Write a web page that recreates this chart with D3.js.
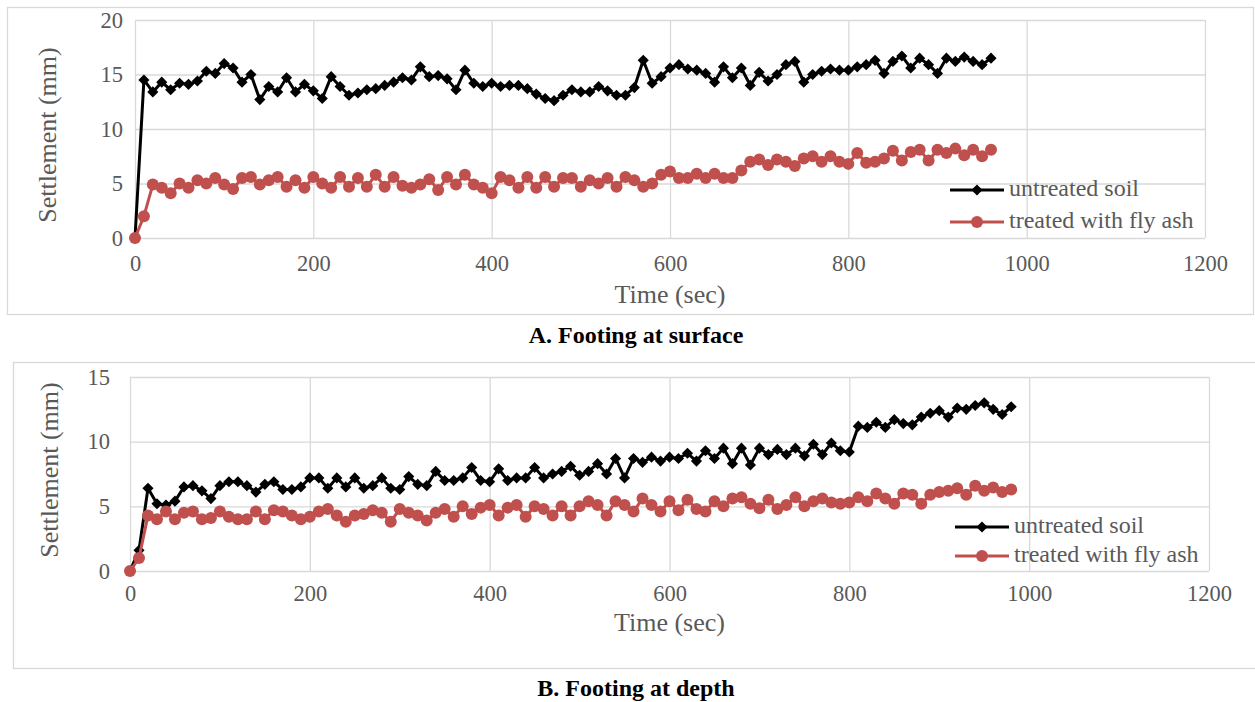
<!DOCTYPE html>
<html>
<head>
<meta charset="utf-8">
<script src="https://cdn.jsdelivr.net/npm/d3@7"></script>
<style>
body { margin: 0; background: #fff; }
svg text { font-family: "Liberation Serif", "Times New Roman", serif; }
</style>
</head>
<body>
<div id="chart"></div>
<script>
// 时间 (sec)
var timeA = [0,10,20,30,40,50,60,70,80,90,100,110,120,130,140,150,160,170,180,190,200,210,220,230,240,250,260,270,280,290,300,310,320,330,340,350,360,370,380,390,400,410,420,430,440,450,460,470,480,490,500,510,520,530,540,550,560,570,580,590,600,610,620,630,640,650,660,670,680,690,700,710,720,730,740,750,760,770,780,790,800,810,820,830,840,850,860,870,880,890,900,910,920,930,940,950,960];
var untreatedA = [0,14.5,13.4,14.3,13.6,14.2,14.1,14.4,15.3,15.1,16.0,15.6,14.3,15.0,12.7,13.9,13.4,14.7,13.4,14.1,13.5,12.8,14.8,13.9,13.1,13.3,13.6,13.7,14.0,14.3,14.7,14.5,15.7,14.8,14.9,14.6,13.6,15.4,14.2,13.9,14.2,13.9,14.0,14.0,13.7,13.2,12.8,12.6,13.1,13.6,13.4,13.4,13.9,13.5,13.1,13.1,13.8,16.3,14.2,14.8,15.6,15.9,15.5,15.4,15.1,14.3,15.7,14.7,15.6,14.0,15.2,14.4,15.0,15.9,16.2,14.3,15.0,15.3,15.5,15.4,15.4,15.7,15.9,16.3,15.1,16.2,16.7,15.6,16.5,15.9,15.1,16.5,16.2,16.6,16.2,15.9,16.5];
var flyAshA = [0,2.0,4.9,4.6,4.1,5.0,4.6,5.3,5.0,5.5,4.9,4.5,5.5,5.6,4.9,5.3,5.6,4.7,5.3,4.6,5.6,5.0,4.6,5.6,4.7,5.5,4.7,5.8,4.7,5.6,4.8,4.6,4.9,5.4,4.4,5.6,4.9,5.8,4.9,4.6,4.1,5.6,5.3,4.6,5.6,4.6,5.6,4.7,5.5,5.5,4.7,5.3,5.0,5.5,4.7,5.6,5.3,4.7,5.0,5.8,6.1,5.5,5.5,5.9,5.5,5.9,5.5,5.5,6.2,7.0,7.2,6.7,7.2,7.0,6.6,7.3,7.5,7.0,7.5,7.0,6.8,7.8,6.9,7.0,7.3,8.0,7.1,7.9,8.1,7.1,8.1,7.8,8.2,7.6,8.1,7.5,8.1];

var timeB = [0,10,20,30,40,50,60,70,80,90,100,110,120,130,140,150,160,170,180,190,200,210,220,230,240,250,260,270,280,290,300,310,320,330,340,350,360,370,380,390,400,410,420,430,440,450,460,470,480,490,500,510,520,530,540,550,560,570,580,590,600,610,620,630,640,650,660,670,680,690,700,710,720,730,740,750,760,770,780,790,800,810,820,830,840,850,860,870,880,890,900,910,920,930,940,950,960,970,980];
var untreatedB = [0,1.6,6.4,5.2,5.1,5.4,6.5,6.6,6.2,5.6,6.6,6.9,6.9,6.6,6.1,6.7,6.9,6.3,6.3,6.5,7.2,7.2,6.4,7.2,6.5,7.2,6.4,6.6,7.2,6.4,6.3,7.3,6.7,6.6,7.7,7.0,7.0,7.2,8.0,7.0,6.9,7.9,7.0,7.2,7.2,8.0,7.2,7.5,7.7,8.1,7.4,7.7,8.3,7.5,8.7,7.2,8.7,8.4,8.8,8.5,8.8,8.7,9.1,8.5,9.3,8.7,9.5,8.3,9.5,8.2,9.5,9.0,9.4,9.0,9.5,8.9,9.8,9.0,9.9,9.3,9.2,11.2,11.1,11.5,11.1,11.7,11.4,11.3,11.9,12.2,12.4,11.9,12.6,12.5,12.8,13.0,12.5,12.1,12.7];
var flyAshB = [0,1.0,4.3,4.0,4.6,4.0,4.5,4.6,4.0,4.1,4.6,4.2,4.0,4.0,4.6,4.0,4.7,4.6,4.3,4.0,4.2,4.6,4.8,4.3,3.8,4.3,4.4,4.7,4.5,3.8,4.8,4.5,4.3,3.9,4.5,4.8,4.2,5.0,4.4,4.9,5.1,4.3,4.9,5.1,4.2,5.0,4.8,4.3,5.0,4.3,5.0,5.4,5.1,4.3,5.4,5.1,4.6,5.6,5.1,4.6,5.4,4.7,5.5,4.8,4.6,5.4,5.0,5.6,5.7,5.2,4.85,5.5,4.8,5.1,5.7,5.0,5.4,5.6,5.3,5.2,5.3,5.7,5.4,6.0,5.6,5.2,6.0,5.9,5.2,5.9,6.1,6.2,6.4,5.9,6.6,6.2,6.45,6.1,6.3];

var xTicks = [0,200,400,600,800,1000,1200];
var yTicksA = [0,5,10,15,20];
var yTicksB = [0,5,10,15];
var seriesNames = ["untreated soil", "treated with fly ash"];
var seriesColors = ["#000000", "#c0504d"];

var W = 1255, H = 702;
var FONT = '"Liberation Serif", "Times New Roman", serif';
var svg = d3.select("#chart").append("svg").attr("width", W).attr("height", H);

var FS_TICK = 22.5, FS_TITLE = 26, FS_LEGEND = 24, FS_CAP = 24;

function drawPanel(p) {
	var g = svg.append("g");
	// 外框
	g.append("rect").attr("x", p.box[0] + 0.5).attr("y", p.box[1] + 0.5)
		.attr("width", p.box[2] - p.box[0]).attr("height", p.box[3] - p.box[1])
		.attr("fill", "none").attr("stroke", "#d9d9d9").attr("stroke-width", 1.3);

	var x = d3.scaleLinear().domain([0, 1200]).range([p.left, p.right]);
	var y = d3.scaleLinear().domain([0, p.yMax]).range([p.bottom, p.top]);

	// 网格线 + 刻度
	var xAxis = g.append("g").attr("transform", "translate(0," + p.bottom + ")")
		.call(d3.axisBottom(x).tickValues(xTicks).tickFormat(d3.format("d"))
			.tickSize(-(p.bottom - p.top)).tickPadding(p.xPad));
	var yAxis = g.append("g").attr("transform", "translate(" + p.left + ",0)")
		.call(d3.axisLeft(y).tickValues(p.yTicks).tickSize(-(p.right - p.left)).tickPadding(p.yPad));
	[xAxis, yAxis].forEach(function(a) {
		a.attr("font-family", FONT).attr("font-size", FS_TICK);
		a.select(".domain").remove();
		a.selectAll(".tick line").attr("stroke", "#d9d9d9").attr("stroke-width", 1.3);
		a.selectAll(".tick text").attr("fill", "#595959");
	});
	xAxis.selectAll(".tick text").attr("dy", "0.71em");

	// 轴标题
	g.append("text").attr("x", (p.left + p.right) / 2).attr("y", p.xTitleY)
		.attr("text-anchor", "middle").attr("dominant-baseline", "middle").attr("font-family", FONT)
		.attr("fill", "#595959").style("font-size", FS_TITLE + "px").text("Time (sec)");
	g.append("text").attr("transform", "translate(" + p.yTitleX + "," + ((p.top + p.bottom) / 2 + p.yTitleDy) + ") rotate(-90)")
		.attr("text-anchor", "middle").attr("dominant-baseline", "middle").attr("font-family", FONT)
		.attr("fill", "#595959").style("font-size", FS_TITLE + "px").text("Settlement (mm)");

	var line = d3.line().x(function(d) { return x(d[0]); }).y(function(d) { return y(d[1]); });
	var sets = [d3.zip(p.time, p.s1), d3.zip(p.time, p.s2)];
	var diamond = d3.symbol().type(d3.symbolSquare).size(62);

	sets.forEach(function(data, si) {
		g.append("path").datum(data).attr("d", line).attr("fill", "none")
			.attr("stroke", seriesColors[si]).attr("stroke-width", 3).attr("stroke-linejoin", "round");
		if (si === 0) {
			g.selectAll(null).data(data).enter().append("path").attr("d", diamond)
				.attr("transform", function(d) { return "translate(" + x(d[0]) + "," + y(d[1]) + ") rotate(45)"; })
				.attr("fill", "#000");
		} else {
			g.selectAll(null).data(data).enter().append("circle")
				.attr("cx", function(d) { return x(d[0]); }).attr("cy", function(d) { return y(d[1]); })
				.attr("r", 6).attr("fill", seriesColors[1]);
		}
	});

	// 图例
	seriesNames.forEach(function(name, i) {
		var ly = p.legY[i];
		var lg = g.append("g");
		lg.append("line").attr("x1", p.legX).attr("x2", p.legX + 54).attr("y1", ly).attr("y2", ly)
			.attr("stroke", seriesColors[i]).attr("stroke-width", 3);
		if (i === 0) {
			lg.append("path").attr("d", diamond).attr("transform", "translate(" + (p.legX + 27) + "," + ly + ") rotate(45)").attr("fill", "#000");
		} else {
			lg.append("circle").attr("cx", p.legX + 27).attr("cy", ly).attr("r", 6).attr("fill", seriesColors[1]);
		}
		lg.append("text").attr("x", p.legX + 59).attr("y", ly).attr("dominant-baseline", "middle").attr("font-family", FONT)
			.attr("fill", "#595959").style("font-size", FS_LEGEND + "px").text(name);
	});

	// 图题
	svg.append("text").attr("x", 636).attr("y", p.capY).attr("text-anchor", "middle").attr("font-family", FONT)
		.attr("dominant-baseline", "middle").style("font-weight", "bold").style("font-size", FS_CAP + "px")
		.attr("fill", "#000").text(p.caption);
}

drawPanel({
	box: [7, 7, 1253, 314], left: 135, right: 1205, top: 20, bottom: 238, yMax: 20, yTicks: yTicksA, yPad: 12, xPad: 17,
	time: timeA, s1: untreatedA, s2: flyAshA, xTitleY: 297, yTitleX: 50, yTitleDy: 6,
	legX: 950, legY: [190, 222], capY: 337, caption: "A. Footing at surface"
});
drawPanel({
	box: [13, 362, 1262, 668], left: 130, right: 1209, top: 377, bottom: 571, yMax: 15, yTicks: yTicksB, yPad: 20, xPad: 14,
	time: timeB, s1: untreatedB, s2: flyAshB, xTitleY: 625, yTitleX: 52, yTitleDy: -4,
	legX: 955, legY: [527, 556], capY: 690, caption: "B. Footing at depth"
});
</script>
</body>
</html>
